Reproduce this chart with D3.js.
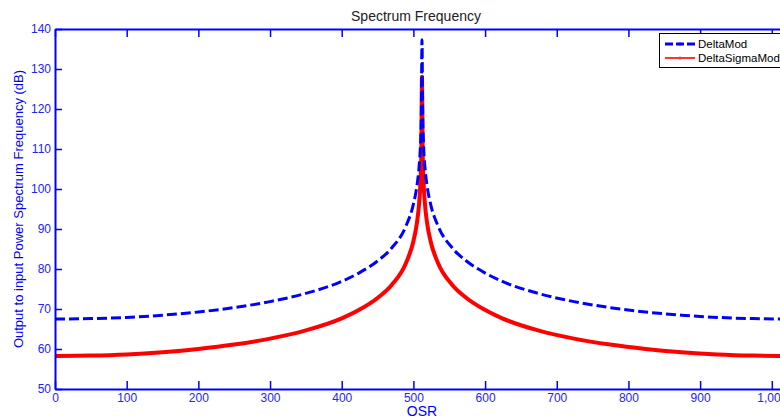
<!DOCTYPE html>
<meta charset="utf-8">
<body style="margin:0;background:#fff">
    <div id='chart'></div>
</body>
<script src="https://d3js.org/d3.v7.min.js"></script>
<style>
    text { font-family: "Liberation Sans", Arial, sans-serif; }
    .axis text { fill: #2222ff; font-size: 12px; }
    .axis path, .axis line { stroke: #0000ff; }
</style>
<script>
    // values
    var osr = [0, 50, 100, 150, 200, 250, 300, 350, 400, 425, 450, 470, 490, 500, 505, 508, 510, 511, 512,
               513, 514, 516, 519, 524, 534, 554, 574, 599, 624, 674, 724, 774, 824, 874, 924, 974, 1024];
    var deltaMod = [67.5, 67.6, 67.9, 68.45, 69.25, 70.35, 71.85, 73.9, 76.9, 79.1, 82, 85.3, 90.9, 96.2, 100.9, 105.7, 111.7, 117.8, 137.3,
                    117.8, 111.7, 105.7, 100.9, 96.2, 90.9, 85.3, 82, 79.1, 76.9, 73.9, 71.85, 70.35, 69.25, 68.45, 67.9, 67.6, 67.5];
    var deltaSigmaMod = [58.25, 58.35, 58.65, 59.2, 60, 61.1, 62.6, 64.65, 67.65, 69.85, 72.75, 76.05, 81.65, 86.95, 91.65, 96.45, 102.45, 108.55, 128.05,
                         108.55, 102.45, 96.45, 91.65, 86.95, 81.65, 76.05, 72.75, 69.85, 67.65, 64.65, 62.6, 61.1, 60, 59.2, 58.65, 58.35, 58.25];
    var xTicks = [0, 100, 200, 300, 400, 500, 600, 700, 800, 900, 1000];
    var yTicks = [50, 60, 70, 80, 90, 100, 110, 120, 130, 140];
    var seriesNames = ["DeltaMod", "DeltaSigmaMod"];

    var width = 780,
        height = 419;
    var plotLeft = 55, plotTop = 29, plotRight = 789, plotBottom = 389;

    var svg = d3.select("#chart").append("svg")
        .attr("width", width)
        .attr("height", height);

    var x = d3.scaleLinear().domain([0, 1024]).range([plotLeft, plotRight]);
    var y = d3.scaleLinear().domain([50, 140]).range([plotBottom, plotTop]);

    svg.append("clipPath").attr("id", "plotclip")
        .append("rect").attr("x", plotLeft).attr("y", plotTop)
        .attr("width", plotRight - plotLeft).attr("height", plotBottom - plotTop);

    var line = d3.line().curve(d3.curveMonotoneX);

    var g = svg.append("g").attr("clip-path", "url(#plotclip)");

    g.append("path")
        .attr("d", line(osr.map(function(d, i) { return [x(d), y(deltaSigmaMod[i])]; })))
        .attr("fill", "none")
        .attr("stroke", "#ff0000")
        .attr("stroke-width", 4)
        .attr("stroke-linejoin", "round");

    g.append("path")
        .attr("d", line(osr.map(function(d, i) { return [x(d), y(deltaMod[i])]; })))
        .attr("fill", "none")
        .attr("stroke", "#0000ff")
        .attr("stroke-width", 3)
        .attr("stroke-dasharray", "10,4");

    // axes, ticks inward
    svg.append("g").attr("class", "axis")
        .attr("transform", "translate(0," + plotBottom + ")")
        .call(d3.axisBottom(x).tickValues(xTicks).tickSizeInner(-8).tickSizeOuter(0).tickPadding(4))
        .call(function(s) { s.select(".domain").attr("stroke-width", 2); });

    svg.append("g").attr("class", "axis")
        .attr("transform", "translate(0," + plotTop + ")")
        .call(d3.axisTop(x).tickValues(xTicks).tickSizeInner(-8).tickSizeOuter(0).tickFormat(""))
        .call(function(s) { s.select(".domain").attr("stroke-width", 2); });

    svg.append("g").attr("class", "axis")
        .attr("transform", "translate(" + plotLeft + ",0)")
        .call(d3.axisLeft(y).tickValues(yTicks).tickSizeInner(-7).tickSizeOuter(0).tickPadding(4))
        .call(function(s) { s.select(".domain").attr("stroke-width", 2); });

    svg.selectAll(".axis .tick line").attr("stroke-width", 1.5);

    svg.append("text")
        .attr("x", (plotLeft + plotRight) / 2 - 6).attr("y", 21)
        .attr("text-anchor", "middle")
        .attr("font-size", 14)
        .attr("fill", "#222")
        .text("Spectrum Frequency");

    svg.append("text")
        .attr("x", 422).attr("y", 416)
        .attr("text-anchor", "middle")
        .attr("font-size", 14)
        .attr("fill", "#0000ff")
        .text("OSR");

    svg.append("text")
        .attr("transform", "translate(23," + ((plotTop + plotBottom) / 2) + ") rotate(-90)")
        .attr("text-anchor", "middle")
        .attr("font-size", 13)
        .attr("fill", "#0000ff")
        .text("Output to input Power Spectrum Frequency (dB)");

    // legend
    var lg = svg.append("g");
    lg.append("rect")
        .attr("x", 659.5).attr("y", 33.5)
        .attr("width", 130).attr("height", 34)
        .attr("fill", "#fff").attr("stroke", "#000").attr("stroke-width", 1);

    var legendStyles = [
        {color: "#0000ff", dash: "8,3", w: 3},
        {color: "#ff3333", dash: null, w: 2}
    ];
    seriesNames.forEach(function(name, i) {
        var ly = 44 + i * 14;
        var st = legendStyles[i];
        lg.append("line")
            .attr("x1", 665).attr("x2", 695).attr("y1", ly).attr("y2", ly)
            .attr("stroke", st.color).attr("stroke-width", st.w)
            .attr("stroke-dasharray", st.dash);
        lg.append("circle").attr("cx", 680).attr("cy", ly).attr("r", 1.5).attr("fill", st.color);
        lg.append("text")
            .attr("x", 698).attr("y", ly + 4)
            .attr("font-size", 11.5)
            .attr("fill", "#000")
            .text(name);
    });
</script>
